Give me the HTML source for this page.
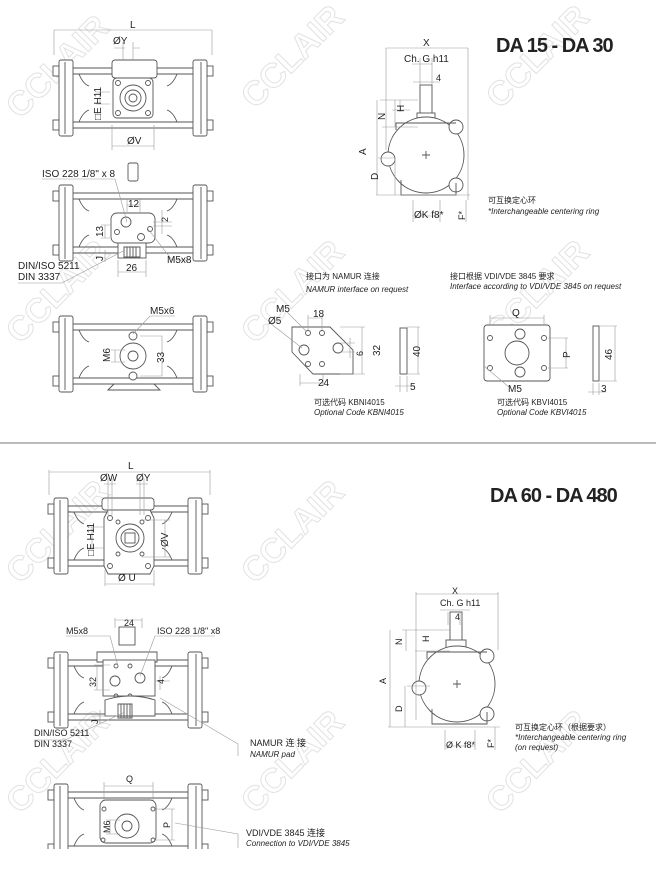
<!DOCTYPE html>
<html><head><meta charset="utf-8"><style>
html,body{margin:0;padding:0;background:#fff;}
svg{display:block;font-family:"Liberation Sans","Noto Sans CJK SC",sans-serif;}
.l{stroke:#555;stroke-width:0.9;fill:none}
.t{stroke:#999;stroke-width:0.6;fill:none}
.f{fill:#fff;stroke:#555;stroke-width:0.9}
text{fill:#222}
.wm{font-size:34px;font-weight:bold;fill:none;stroke:#e2e2e2;stroke-width:1}
</style></head><body>
<svg width="656" height="873" viewBox="0 0 656 873">
<defs>
<g id="act">
 <!-- generic actuator body 160x75 at origin -->
 <rect class="f" x="0" y="6" width="6" height="10"/><rect class="f" x="0" y="60" width="6" height="10"/>
 <rect class="f" x="154" y="6" width="6" height="10"/><rect class="f" x="154" y="60" width="6" height="10"/>
 <rect class="f" x="6" y="0" width="14" height="76" rx="2"/>
 <rect class="f" x="140" y="0" width="14" height="76" rx="2"/>
 <line class="l" x1="12" y1="2" x2="12" y2="74"/><line class="l" x1="148" y1="2" x2="148" y2="74"/>
 <path class="l" d="M20 8 H140 M20 14 H140 M20 62 H140 M20 68 H140"/>
 <path class="l" d="M26 14 q4 10 10 12 M124 14 q-4 10 -10 12 M26 62 q4 -10 10 -12 M124 62 q-4 -10 -10 -12"/>
</g>
<g id="side">
 <circle class="f" cx="0" cy="0" r="38"/>
 <circle class="f" cx="-38" cy="4" r="7"/><circle class="f" cx="30" cy="-28" r="7"/><circle class="f" cx="30" cy="30" r="7"/>
 <path class="l" d="M-30 -25 V-32 H30 M-25 25 V40 H30 V28"/>
 <path class="l" d="M-4 4 h8 M0 0 v8" transform="translate(0,-4)"/>
</g>
</defs>

<!-- watermarks -->
<g>
<text class="wm" transform="translate(20,120) rotate(-45)">CCLAIR</text>
<text class="wm" transform="translate(255,110) rotate(-45)">CCLAIR</text>
<text class="wm" transform="translate(500,110) rotate(-45)">CCLAIR</text>
<text class="wm" transform="translate(20,345) rotate(-45)">CCLAIR</text>
<text class="wm" transform="translate(255,345) rotate(-45)">CCLAIR</text>
<text class="wm" transform="translate(500,345) rotate(-45)">CCLAIR</text>
<text class="wm" transform="translate(20,585) rotate(-45)">CCLAIR</text>
<text class="wm" transform="translate(255,585) rotate(-45)">CCLAIR</text>
<text class="wm" transform="translate(20,815) rotate(-45)">CCLAIR</text>
<text class="wm" transform="translate(255,815) rotate(-45)">CCLAIR</text>
<text class="wm" transform="translate(500,815) rotate(-45)">CCLAIR</text>
</g>

<!-- ============ TOP HALF ============ -->
<!-- top view 1 -->
<g transform="translate(53,60)"><use href="#act"/></g>
<rect class="f" x="112" y="60" width="45" height="18" rx="3"/>
<rect class="f" x="113" y="78" width="40" height="40" rx="4"/>
<circle class="l" cx="133" cy="98" r="13"/><circle class="l" cx="133" cy="98" r="8"/><circle class="l" cx="133" cy="98" r="4"/>
<circle class="l" cx="118" cy="83" r="2.5"/><circle class="l" cx="148" cy="83" r="2.5"/><circle class="l" cx="118" cy="113" r="2.5"/><circle class="l" cx="148" cy="113" r="2.5"/>
<path class="t" d="M54 30 V55 M212 30 V55 M54 30 H212 M114 48 H125 M133 48 H140 M123 42 V60 M133 42 V60 M112 125 V150 M154 125 V150 M112 146 H154 M100 92 V104 M96 92 H110 M96 104 H110"/>
<text x="130" y="28" font-size="10">L</text>
<text x="113" y="44" font-size="10">ØY</text>
<text x="127" y="144" font-size="10">ØV</text>
<text transform="translate(101,120) rotate(-90)" font-size="10">□E H11</text>

<!-- side view 1 -->
<rect class="f" x="128" y="163" width="10" height="18" rx="2"/>
<g transform="translate(53,185)"><use href="#act"/></g>
<rect class="f" x="111" y="213" width="44" height="30" rx="6"/>
<rect class="f" x="118" y="243" width="28" height="15"/>
<path class="l" d="M124 247 h16 v10 h-16z M127 247 v10 M130 247 v10 M133 247 v10 M136 247 v10"/>
<circle class="l" cx="126" cy="222" r="5"/><circle class="l" cx="117" cy="232" r="2.5"/><circle class="l" cx="150" cy="229" r="2.5"/><circle class="l" cx="141" cy="237" r="3.5"/>
<path class="t" d="M42 179 H115 L127 222 M127 198 V212 M140 198 V212 M127 205 H140 M105 225 V238 M101 225 H110 M101 238 H110 M153 222 H172 M153 226 H172 M162 210 V234 M148 229 L172 260 H190 M18 283 H62 L125 250 M105 250 V262 M118 260 V277 M146 260 V277 M118 272 H146"/>
<text x="42" y="177" font-size="10">ISO 228 1/8" x 8</text>
<text x="128" y="207" font-size="10">12</text>
<text transform="translate(168,222) rotate(-90)" font-size="9">2</text>
<text transform="translate(103,237) rotate(-90)" font-size="10">13</text>
<text transform="translate(103,261) rotate(-90)" font-size="10">J</text>
<text x="167" y="263" font-size="10">M5x8</text>
<text x="126" y="271" font-size="10">26</text>
<text x="18" y="269" font-size="10" font-weight="bold" style="font-weight:normal">DIN/ISO 5211</text>
<text x="18" y="280" font-size="10">DIN 3337</text>

<!-- bottom view 1 -->
<g transform="translate(53,316)"><use href="#act"/></g>
<path class="f" d="M108 390 l6 -6 h40 l6 6z"/>
<circle class="f" cx="133" cy="356" r="13"/><circle class="l" cx="133" cy="356" r="5"/>
<circle class="f" cx="133" cy="336" r="4"/><circle class="f" cx="133" cy="376" r="4"/>
<path class="t" d="M133 334 L150 316 H175 M140 336 H162 V376 H140 M115 350 V362 M111 350 H125 M111 362 H125"/>
<text x="150" y="314" font-size="10">M5x6</text>
<text transform="translate(164,363) rotate(-90)" font-size="10">33</text>
<text transform="translate(110,362) rotate(-90)" font-size="10">M6</text>

<!-- right side view 1 -->
<rect class="f" x="420" y="85" width="12" height="30"/>
<rect class="f" x="417" y="113" width="18" height="10"/>
<g transform="translate(426,155)"><use href="#side"/></g>
<path class="t" d="M386 48 V150 M468 48 V200 M386 48 H468 M412 64 H432 M420 58 V85 M432 58 V85 M413 82 H440 M380 100 H418 M382 127 H418 M377 100 V195 M395 100 V127 M392 110 H410 M400 100 V112 M378 158 H395 M376 195 H470 M395 158 V195 M413 200 V222 M440 200 V222 M413 216 H440 M466 200 V222"/>
<text x="423" y="46" font-size="10">X</text>
<text x="404" y="62" font-size="10">Ch. G h11</text>
<text x="436" y="81" font-size="9">4</text>
<text transform="translate(385,120) rotate(-90)" font-size="10">N</text>
<text transform="translate(404,112) rotate(-90)" font-size="10">H</text>
<text transform="translate(366,155) rotate(-90)" font-size="10">A</text>
<text transform="translate(378,180) rotate(-90)" font-size="10">D</text>
<text x="414" y="218" font-size="10">ØK f8*</text>
<text transform="translate(465,220) rotate(-90)" font-size="9">F*</text>
<text x="488" y="203" font-size="8">可互换定心环</text>
<text x="488" y="214" font-size="8" font-style="italic">*Interchangeable centering ring</text>
<text x="496" y="52" font-size="20" font-weight="bold" letter-spacing="-1">DA 15 - DA 30</text>

<!-- NAMUR plate -->
<text x="306" y="279" font-size="8">接口为 NAMUR 连接</text>
<text x="306" y="292" font-size="8" font-style="italic">NAMUR interface on request</text>
<path class="f" d="M292 327 H330 L353 350 V374 H313 L292 352z"/>
<circle class="l" cx="308" cy="333" r="2.5"/><circle class="l" cx="322" cy="333" r="2.5"/>
<circle class="l" cx="308" cy="364" r="2.5"/><circle class="l" cx="322" cy="364" r="2.5"/>
<circle class="l" cx="304" cy="350" r="5"/><circle class="l" cx="338" cy="348" r="5"/>
<rect class="f" x="400" y="328" width="7" height="46"/>
<path class="t" d="M286 311 L306 331 M270 323 L302 348 M308 315 V330 M322 315 V330 M308 318 H322 M340 327 H365 M340 374 H365 M362 327 V374 M340 343 H355 M340 352 H355 M350 338 V358 M300 374 V386 M323 374 V386 M300 383 H323 M400 376 V392 M407 376 V392 M395 386 H415 M407 327 H420 M407 374 H420 M418 327 V374"/>
<text x="276" y="312" font-size="10">M5</text>
<text x="268" y="324" font-size="10">Ø5</text>
<text x="313" y="317" font-size="10">18</text>
<text transform="translate(380,356) rotate(-90)" font-size="10">32</text>
<text transform="translate(363,356) rotate(-90)" font-size="9">6</text>
<text transform="translate(420,357) rotate(-90)" font-size="10">40</text>
<text x="318" y="386" font-size="10">24</text>
<text x="410" y="390" font-size="10">5</text>
<text x="314" y="405" font-size="8">可选代码 KBNI4015</text>
<text x="314" y="415" font-size="8" font-style="italic">Optional Code KBNI4015</text>

<!-- VDI plate -->
<text x="450" y="279" font-size="8">接口根据 VDI/VDE 3845 要求</text>
<text x="450" y="289" font-size="8" font-style="italic">Interface according to VDI/VDE 3845 on request</text>
<rect class="f" x="484" y="325" width="66" height="56" rx="3"/>
<circle class="l" cx="517" cy="353" r="12"/>
<circle class="l" cx="520" cy="334" r="5"/><circle class="l" cx="520" cy="372" r="5"/>
<circle class="l" cx="490" cy="338" r="2.5"/><circle class="l" cx="544" cy="338" r="2.5"/><circle class="l" cx="490" cy="368" r="2.5"/><circle class="l" cx="544" cy="368" r="2.5"/>
<rect class="f" x="593" y="326" width="6" height="55"/>
<path class="t" d="M490 315 V325 M544 315 V325 M490 318 H544 M548 338 H568 M548 368 H568 M566 338 V368 M484 366 L510 388 M599 326 H617 M599 381 H617 M615 326 V381 M593 383 V395 M599 383 V395 M588 392 H606"/>
<text x="512" y="316" font-size="10">Q</text>
<text transform="translate(570,358) rotate(-90)" font-size="10">P</text>
<text transform="translate(612,360) rotate(-90)" font-size="10">46</text>
<text x="508" y="392" font-size="10">M5</text>
<text x="601" y="392" font-size="10">3</text>
<text x="497" y="405" font-size="8">可选代码 KBVI4015</text>
<text x="497" y="415" font-size="8" font-style="italic">Optional Code KBVI4015</text>

<!-- separator -->
<line x1="0" y1="443" x2="656" y2="443" stroke="#777" stroke-width="1"/>

<!-- ============ BOTTOM HALF ============ -->
<text x="490" y="502" font-size="20" font-weight="bold" letter-spacing="-1">DA 60 - DA 480</text>

<!-- top view 2 -->
<g transform="translate(48,498)"><use href="#act"/></g>
<rect class="f" x="102" y="498" width="52" height="12" rx="3"/>
<path class="f" d="M108 510 H150 l4 8 v48 l-4 8 H108 l-4 -8 v-48z"/>
<circle class="l" cx="130" cy="538" r="14"/><circle class="l" cx="130" cy="538" r="9"/><rect class="l" x="125" y="533" width="10" height="10"/>
<circle class="l" cx="110" cy="518" r="2.5"/><circle class="l" cx="118" cy="522" r="2"/><circle class="l" cx="148" cy="518" r="2.5"/><circle class="l" cx="142" cy="522" r="2"/>
<circle class="l" cx="110" cy="566" r="2.5"/><circle class="l" cx="118" cy="554" r="2"/><circle class="l" cx="148" cy="566" r="2.5"/><circle class="l" cx="142" cy="554" r="2"/>
<path class="t" d="M49 470 V495 M210 470 V495 M49 472 H210 M108 478 V515 M112 478 V515 M104 484 H116 M140 478 V515 M144 478 V515 M136 484 H148 M142 520 H170 M142 557 H170 M165 520 V557 M105 570 V586 M154 570 V586 M105 584 H154 M92 527 V548 M88 527 H104 M88 548 H104"/>
<text x="128" y="469" font-size="10">L</text>
<text x="100" y="481" font-size="10">ØW</text>
<text x="136" y="481" font-size="10">ØY</text>
<text transform="translate(168,547) rotate(-90)" font-size="10">ØV</text>
<text x="118" y="581" font-size="10">Ø U</text>
<text transform="translate(94,556) rotate(-90)" font-size="10">□E H11</text>

<!-- side view 2 -->
<rect class="f" x="119" y="627" width="16" height="18"/>
<g transform="translate(48,652)"><use href="#act"/></g>
<path class="f" d="M97 652 h60 v10 h-60z"/>
<rect class="f" x="103" y="660" width="52" height="36"/>
<circle class="l" cx="116" cy="666" r="2"/><circle class="l" cx="130" cy="666" r="2"/><circle class="l" cx="116" cy="696" r="2"/><circle class="l" cx="130" cy="696" r="2"/>
<circle class="l" cx="115" cy="681" r="5"/><circle class="l" cx="140" cy="678" r="5"/>
<path class="f" d="M105 700 q25 -8 50 0 v16 H105z"/>
<path class="l" d="M118 704 h14 v14 h-14z M121 704 v14 M124 704 v14 M127 704 v14 M130 704 v14"/>
<path class="t" d="M115 618 V628 M142 618 V628 M115 620 H142 M66 636 H110 L118 666 M155 636 H215 M155 636 L140 676 M97 665 V690 M94 665 H110 M94 690 H110 M160 676 V690 M155 681 H170 M92 716 H118 M100 710 V724 M34 740 H65 L125 712 M160 698 L238 744 V756"/>
<text x="124" y="626" font-size="9">24</text>
<text x="66" y="634" font-size="9">M5x8</text>
<text x="157" y="634" font-size="9">ISO 228 1/8" x8</text>
<text transform="translate(96,687) rotate(-90)" font-size="9">32</text>
<text transform="translate(164,684) rotate(-90)" font-size="9">4</text>
<text transform="translate(98,724) rotate(-90)" font-size="9">J</text>
<text x="34" y="736" font-size="9">DIN/ISO 5211</text>
<text x="34" y="747" font-size="9">DIN 3337</text>
<text x="250" y="746" font-size="9">NAMUR 连 接</text>
<text x="250" y="757" font-size="8" font-style="italic">NAMUR pad</text>

<!-- bottom view 2 -->
<g transform="translate(48,784)"><use href="#act"/></g>
<rect x="0" y="849" width="656" height="30" fill="#fff"/>
<rect class="f" x="100" y="800" width="56" height="43" rx="6"/>
<circle class="l" cx="127" cy="826" r="12"/><circle class="l" cx="127" cy="826" r="5"/>
<circle class="l" cx="104" cy="809" r="2"/><circle class="l" cx="153" cy="809" r="2"/><circle class="l" cx="103" cy="840" r="2"/><circle class="l" cx="153" cy="840" r="2"/>
<path class="t" d="M104 782 V800 M153 782 V800 M104 786 H153 M155 809 H175 M155 840 H175 M172 809 V840 M110 820 V834 M106 820 H120 M106 834 H120 M175 823 L238 834 V848"/>
<text x="126" y="782" font-size="9">Q</text>
<text transform="translate(170,828) rotate(-90)" font-size="9">P</text>
<text transform="translate(110,833) rotate(-90)" font-size="9">M6</text>
<text x="246" y="836" font-size="9">VDI/VDE 3845 连接</text>
<text x="246" y="846" font-size="8" font-style="italic">Connection to VDI/VDE 3845</text>

<!-- right side view 2 -->
<rect class="f" x="450" y="612" width="12" height="30"/>
<rect class="f" x="446" y="640" width="20" height="8"/>
<g transform="translate(457,684)"><use href="#side"/></g>
<path class="t" d="M416 592 V720 M498 592 V650 M416 594 H498 M440 610 H470 M448 612 V625 M460 612 V625 M420 630 H450 M415 651 H450 M390 630 V727 M406 630 V651 M402 630 H448 M406 640 V651 M407 686 H430 M405 686 V727 M388 727 H500 M445 730 V750 M475 730 V750 M445 746 H475 M495 727 V750"/>
<text x="452" y="594" font-size="9">X</text>
<text x="440" y="606" font-size="9">Ch. G h11</text>
<text x="455" y="620" font-size="9">4</text>
<text transform="translate(402,645) rotate(-90)" font-size="9">N</text>
<text transform="translate(429,642) rotate(-90)" font-size="9">H</text>
<text transform="translate(386,684) rotate(-90)" font-size="9">A</text>
<text transform="translate(402,712) rotate(-90)" font-size="9">D</text>
<text x="446" y="748" font-size="9">Ø K f8*</text>
<text transform="translate(494,748) rotate(-90)" font-size="9">F*</text>
<text x="515" y="730" font-size="8">可互换定心环（根据要求）</text>
<text x="515" y="740" font-size="8" font-style="italic">*Interchangeable centering ring</text>
<text x="515" y="750" font-size="8" font-style="italic">(on request)</text>
</svg>
</body></html>
